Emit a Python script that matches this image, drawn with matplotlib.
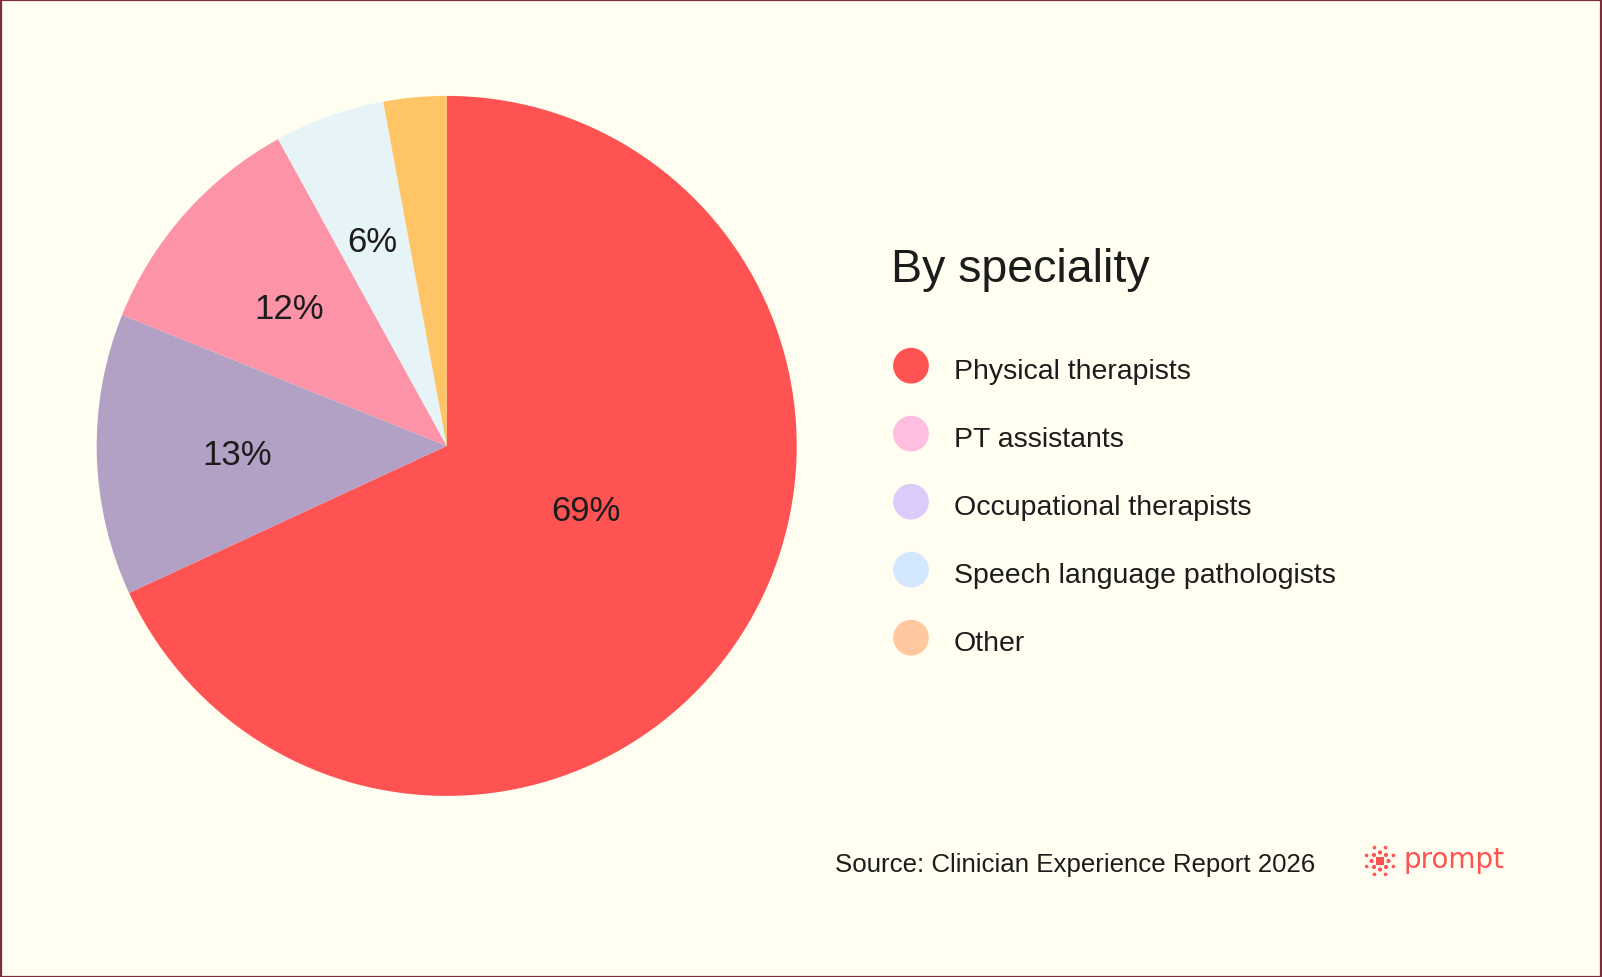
import numpy as np
import matplotlib
matplotlib.use("Agg")
import matplotlib.pyplot as plt
from matplotlib.patches import Rectangle

# ---------------- data ----------------
categories = ["Physical therapists", "PT assistants", "Occupational therapists",
              "Speech language pathologists", "Other"]
shares = [68.1, 10.9, 13.0, 5.1, 2.9]          # slice sizes
pct_labels = ["69%", "12%", "13%", "6%", ""]     # printed labels
pie_colors = ["#ff5252", "#fd93a7", "#b3a0c5", "#e6f4f8", "#fec466"]
legend_colors = ["#ff5252", "#ffbde0", "#dccbfa", "#d3e8ff", "#ffc89e"]
pie_order = [0, 2, 1, 3, 4]                       # clockwise from top
title = "By speciality"
source = "Source: Clinician Experience Report 2026"
brand = "prompt"

# ---------------- style ----------------
W, H, DPI = 1602, 978, 100
BG = "#fffef0"
INK = "#1c1c1c"
FONT = ["Liberation Sans", "DejaVu Sans"]
plt.rcParams["font.family"] = FONT

fig = plt.figure(figsize=(W / DPI, H / DPI), dpi=DPI, facecolor=BG)

# pie axes: center (446.7, 446.9) px, radius 350 px
cx, cy, R = 446.7, 446.9, 350.0
ax = fig.add_axes([(cx - R) / W, (H - cy - R) / H, 2 * R / W, 2 * R / H])
ax.set_facecolor("none")
vals = [shares[i] for i in pie_order]
cols = [pie_colors[i] for i in pie_order]
wedges, _ = ax.pie(vals, colors=cols, startangle=90, counterclock=False,
                   radius=1.0, wedgeprops=dict(linewidth=0))
ax.set_xlim(-1, 1)
ax.set_ylim(-1, 1)
ax.set_aspect("auto")
ax.axis("off")

label_r = {0: 0.434, 1: 0.603, 2: 0.599, 3: 0.631, 4: 0.6}
label_dtheta = {0: 8.6, 1: 0, 2: 0, 3: 0, 4: 0}
for w, idx in zip(wedges, pie_order):
    txt = pct_labels[idx]
    if not txt:
        continue
    mid = np.deg2rad((w.theta1 + w.theta2) / 2 + label_dtheta[idx])
    r = label_r[idx]
    ax.text(r * np.cos(mid), r * np.sin(mid) - 0.009, txt, ha="center", va="center",
            fontsize=25, color=INK)

# overlay axes in pixel coordinates
ox = fig.add_axes([0, 0, 1, 1])
ox.set_xlim(0, W)
ox.set_ylim(H, 0)
ox.axis("off")
ox.set_facecolor("none")

# title
ox.text(891, 281.7, title, fontsize=33.5, color=INK, ha="left", va="baseline")

# legend
y0, dy = 366.7, 68.0
for i, (name, c) in enumerate(zip(categories, legend_colors)):
    y = y0 + dy * i
    ox.scatter([911], [y], s=(35.7 * 0.72) ** 2, color=c, edgecolors="none", zorder=3)
    ox.text(954, y + 12.6, name, fontsize=20.5, color=INK, ha="left", va="baseline")

# source
ox.text(835, 871.7, source, fontsize=18.6, color=INK, ha="left", va="baseline")

# brand logo
LOGO = "#ff5252"
lx, ly = 1380.0, 862.0
a_in = np.deg2rad(np.arange(0, 360, 45))
a_out = a_in + np.deg2rad(22.5)
ox.scatter(lx + 8.5 * np.cos(a_in), ly + 8.5 * np.sin(a_in), s=(4.2 * 0.72) ** 2,
           color=LOGO, edgecolors="none")
ox.scatter(lx + 14.5 * np.cos(a_out), ly + 14.5 * np.sin(a_out), s=(3.6 * 0.72) ** 2,
           color=LOGO, edgecolors="none")
ox.scatter([lx], [ly], marker="s", s=(8.0 * 0.72) ** 2, color=LOGO, edgecolors="none")
ox.text(1403, 868.5, brand, fontsize=20, color=LOGO, ha="left", va="baseline",
        family=["DejaVu Sans"], fontweight="medium")

# frame border
fig.add_artist(Rectangle((0.5 / W, 0.5 / H), 1 - 1.5 / W, 1 - 1.5 / H,
                         transform=fig.transFigure, fill=False,
                         edgecolor="#7b2e3a", linewidth=1.6))

fig.savefig("out.png", dpi=DPI, facecolor=BG)
